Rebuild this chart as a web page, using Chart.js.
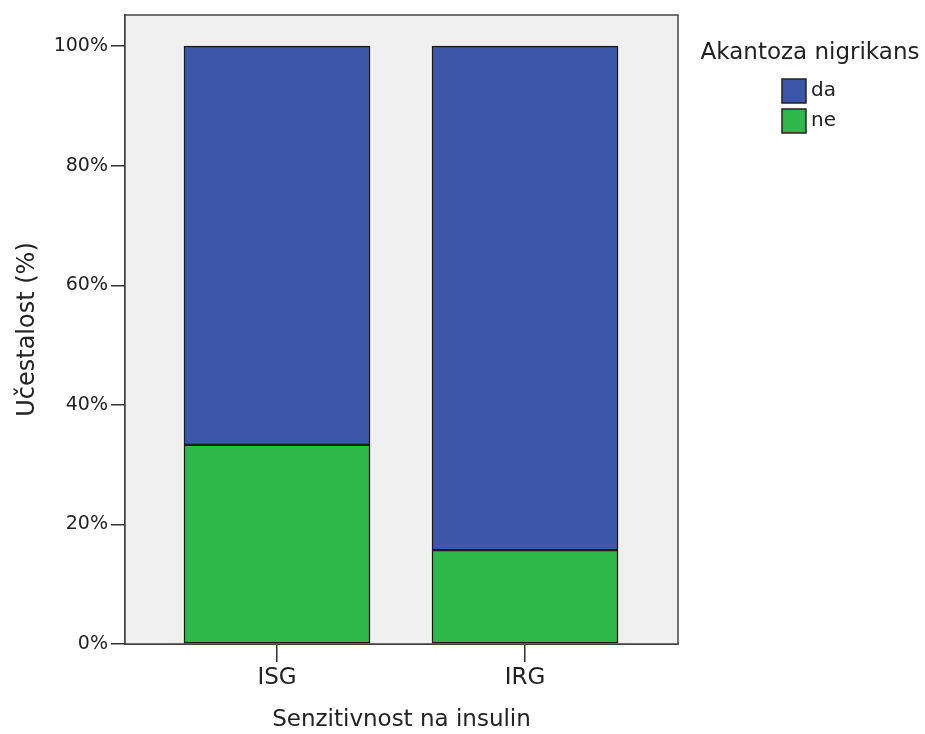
<!DOCTYPE html>
<html>
<head>
<meta charset="utf-8">
<script src="https://cdn.jsdelivr.net/npm/chart.js@4/dist/chart.umd.min.js"></script>
<style>
  html, body { margin: 0; padding: 0; background: #fff; }
  #wrap { width: 925px; height: 734px; position: relative; }
</style>
</head>
<body>
<div id="wrap"><canvas id="chart" width="925" height="734"></canvas></div>
<script>
// values
var categories = ['ISG', 'IRG'];
var nePct = [33.3, 15.7];
var daPct = [66.7, 84.3];
var yTicks = [0, 20, 40, 60, 80, 100];
var legendTitle = 'Akantoza nigrikans';

var FONT = '"DejaVu Sans", sans-serif';
var BLUE = '#3c57a8';
var GREEN = '#2fb84a';

// gray plot background and frame
var plotFrame = {
    id: 'plotFrame',
    beforeDatasetsDraw: function (chart) {
        var a = chart.chartArea, ctx = chart.ctx;
        ctx.save();
        ctx.fillStyle = '#f0f0f0';
        ctx.fillRect(a.left, a.top, a.right - a.left, a.bottom - a.top);
        ctx.restore();
    },
    afterDatasetsDraw: function (chart) {
        var a = chart.chartArea, ctx = chart.ctx;
        ctx.save();
        ctx.strokeStyle = '#444';
        ctx.lineWidth = 1.5;
        ctx.strokeRect(a.left, a.top, a.right - a.left, a.bottom - a.top);
        ctx.restore();
    }
};

// legend at the right, SPSS style
var sideLegend = {
    id: 'sideLegend',
    afterDraw: function (chart) {
        var ctx = chart.ctx;
        ctx.save();
        ctx.fillStyle = '#222';
        ctx.font = '23px ' + FONT;
        ctx.textAlign = 'center';
        ctx.textBaseline = 'middle';
        ctx.fillText(legendTitle, 810, 53);
        // top item first: last dataset is on top of the stack
        var ds = chart.data.datasets.slice().reverse();
        ctx.font = '20px ' + FONT;
        ctx.textAlign = 'left';
        ds.forEach(function (d, i) {
            var y = 79 + i * 30;
            ctx.fillStyle = d.backgroundColor;
            ctx.fillRect(782, y, 24, 24);
            ctx.strokeStyle = '#222';
            ctx.lineWidth = 1.5;
            ctx.strokeRect(782, y, 24, 24);
            ctx.fillStyle = '#222';
            ctx.fillText(d.label, 811, y + 12);
        });
        ctx.restore();
    }
};

new Chart(document.getElementById('chart'), {
    type: 'bar',
    data: {
        datasets: [{
            label: 'ne',
            data: nePct.map(function (v, i) { return { x: i, y: v }; }),
            backgroundColor: GREEN,
            borderColor: '#1a1a1a',
            borderWidth: 1.5,
            borderSkipped: false,
            barThickness: 186
        }, {
            label: 'da',
            data: daPct.map(function (v, i) { return { x: i, y: v }; }),
            backgroundColor: BLUE,
            borderColor: '#1a1a1a',
            borderWidth: 1.5,
            borderSkipped: false,
            barThickness: 186
        }]
    },
    options: {
        responsive: false,
        animation: false,
        layout: { padding: { top: 15, right: 247, bottom: 0, left: 0 } },
        plugins: { legend: { display: false }, tooltip: { enabled: false } },
        scales: {
            x: {
                type: 'linear',
                stacked: true,
                offset: false,
                min: -0.6129,
                max: 1.6169,
                afterBuildTicks: function (axis) {
                    axis.ticks = categories.map(function (c, i) { return { value: i }; });
                },
                afterFit: function (axis) { axis.height = 90; },
                ticks: {
                    color: '#222',
                    font: { family: FONT, size: 23 },
                    padding: 2,
                    callback: function (v) { return categories[v]; }
                },
                grid: { offset: false, drawOnChartArea: false, drawTicks: true, tickLength: 18, color: '#333', lineWidth: 1.5 },
                border: { display: true, color: '#333', width: 2 },
                title: {
                    display: true,
                    text: 'Senzitivnost na insulin',
                    color: '#222',
                    font: { family: FONT, size: 23, lineHeight: 1 },
                    padding: { top: 0, bottom: 2 }
                }
            },
            y: {
                stacked: true,
                min: 0,
                max: 105.2,
                afterBuildTicks: function (axis) {
                    axis.ticks = yTicks.map(function (v) { return { value: v }; });
                },
                afterFit: function (axis) { axis.width = 125; },
                ticks: {
                    color: '#222',
                    font: { family: FONT, size: 19 },
                    padding: 3,
                    callback: function (v) { return v + '%'; }
                },
                grid: { drawOnChartArea: false, drawTicks: true, tickLength: 14, color: '#333', lineWidth: 1.5 },
                border: { display: true, color: '#333', width: 2 },
                title: {
                    display: true,
                    text: 'Učestalost (%)',
                    color: '#222',
                    font: { family: FONT, size: 24, lineHeight: 1 },
                    padding: { top: 16, bottom: 0 }
                }
            }
        }
    },
    plugins: [plotFrame, sideLegend]
});
</script>
</body>
</html>
